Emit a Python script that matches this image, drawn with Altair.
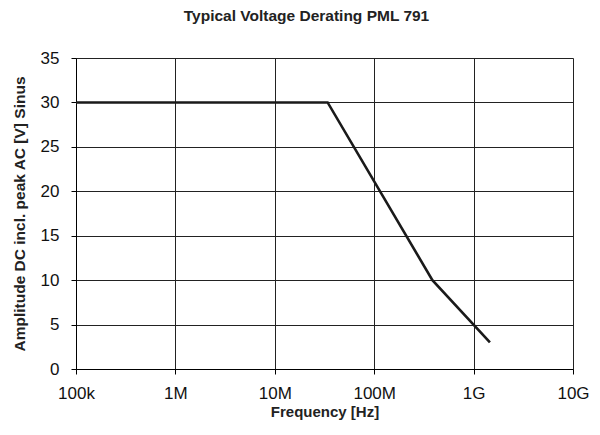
import altair as alt
import pandas as pd

freq_hz = [1e5, 3.4e7, 3.85e8, 1.46e9]
voltage_v = [30, 30, 10, 3]

x_tick_values = [1e5, 1e6, 1e7, 1e8, 1e9, 1e10]
x_tick_labels = ["100k", "1M", "10M", "100M", "1G", "10G"]
y_tick_values = [0, 5, 10, 15, 20, 25, 30, 35]

df = pd.DataFrame({"f": freq_hz, "v": voltage_v})

label_expr = " : ".join(
    f"datum.value == {v:g} ? '{l}'" for v, l in zip(x_tick_values, x_tick_labels)
) + " : ''"

FONT = "Liberation Sans"

chart = alt.Chart(df).mark_line(color="#1a1a1a", strokeWidth=2.6).encode(
    x=alt.X(
        "f:Q",
        scale=alt.Scale(type="log", domain=[1e5, 1e10], nice=False),
        axis=alt.Axis(
            values=x_tick_values,
            labelExpr=label_expr,
            title="Frequency [Hz]",
            titleFontWeight="bold",
            titleFontSize=15,
            titleFont=FONT,
            titlePadding=3,
            labelFont=FONT,
            labelFontSize=17,
            labelPadding=11,
            labelColor="#111",
            titleColor="#222",
            tickSize=5,
            tickColor="#000",
            domainColor="#000",
            gridColor="#222",
            gridWidth=1,
            labelFlush=False,
        ),
    ),
    y=alt.Y(
        "v:Q",
        scale=alt.Scale(domain=[0, 35], nice=False),
        axis=alt.Axis(
            values=y_tick_values,
            title="Amplitude DC incl. peak AC [V] Sinus",
            titleFontWeight="bold",
            titleFontSize=15.5,
            titleFont=FONT,
            titlePadding=13,
            labelFont=FONT,
            labelFontSize=17,
            labelPadding=12,
            labelColor="#111",
            titleColor="#222",
            tickSize=5,
            tickColor="#000",
            domainColor="#000",
            gridColor="#222",
            gridWidth=1,
        ),
    ),
).properties(
    width=497,
    height=311,
    title=alt.TitleParams(
        "Typical Voltage Derating PML 791",
        font=FONT,
        fontSize=15.5,
        fontWeight="bold",
        color="#222",
        offset=25,
        dx=-18,
    ),
    autosize=alt.AutoSizeParams(type="none"),
    padding={"left": 68, "top": 50, "right": 19, "bottom": 52},
).configure_view(stroke="#000", strokeWidth=1).configure(background="white")

chart.save("out.html", embed_options={"renderer": "svg", "actions": False})
